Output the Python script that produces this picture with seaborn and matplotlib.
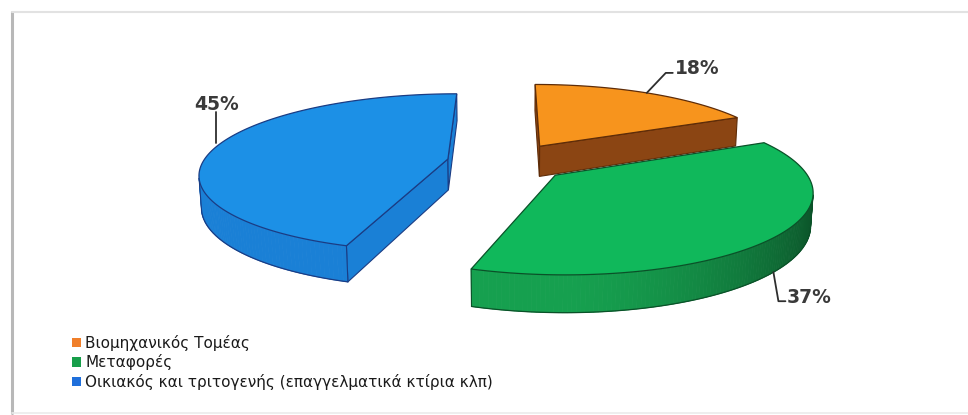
import numpy as np
import matplotlib
matplotlib.use("Agg")
import matplotlib.pyplot as plt
from matplotlib.patches import Polygon, Patch
from matplotlib.lines import Line2D
import seaborn as sns

# Energy consumption shares by sector
categories = ["Βιομηχανικός Τομέας", "Μεταφορές",
              "Οικιακός και τριτογενής (επαγγελματικά κτίρια κλπ)"]
shares = [18, 37, 45]

# Styling
top_colors = ["#F7941D", "#10B85B", "#1C90E6"]
side_colors = ["#8B4513", "#16A04F", "#1A80D6"]
edge_colors = ["#5E2C08", "#0A5128", "#1A3C84"]
legend_colors = ["#F07F2A", "#179E4A", "#1F6FDB"]

sns.set_theme(style="white")
plt.rcParams["font.family"] = ["DejaVu Sans"]

W, H, DPI = 968, 415, 100
fig = plt.figure(figsize=(W / DPI, H / DPI), dpi=DPI)
fig.patch.set_facecolor("white")
ax = fig.add_axes([0, 0, 1, 1])
ax.set_xlim(0, W)
ax.set_ylim(H, 0)
ax.axis("off")

# Camera for the tilted, perspective pie
PHI = np.arcsin(0.316)
CP, SP = np.cos(PHI), np.sin(PHI)
DIST, FOC = 5.5, 1347.0
CX, CY = 508.0, 162.0
THICK = 0.135
EXPLODE = 0.25
CAM = np.array([0.0, DIST * SP, -DIST * CP])


def project(X, Y, Z):
    yc = Y * CP + Z * SP
    d = DIST + Z * CP - Y * SP
    return CX + FOC * X / d, CY - FOC * yc / d


def shade(color, k):
    rgb = np.array(matplotlib.colors.to_rgb(color))
    return tuple(np.clip(rgb * k, 0, 1))


def facing(normal, point):
    return np.dot(normal, CAM - point) > 0


total = float(sum(shares))
start = 0.0
slices = []
for i, v in enumerate(shares):
    span = 360.0 * v / total
    slices.append((i, np.radians(start), np.radians(start + span)))
    start += span

anchors = []
# back slice first, then the left one, then the front one
for i, t1, t2 in [slices[0], slices[2], slices[1]]:
    mid = 0.5 * (t1 + t2)
    ox, oz = EXPLODE * np.sin(mid), EXPLODE * np.cos(mid)
    th = np.linspace(t1, t2, 160)
    ax_x = ox + np.sin(th)
    ax_z = oz + np.cos(th)

    # radial cut faces
    for tt, sign in [(t1, -1), (t2, 1)]:
        n = sign * np.array([np.cos(tt), 0.0, -np.sin(tt)])
        ex, ez = ox + np.sin(tt), oz + np.cos(tt)
        p = np.array([(ox + ex) / 2, -THICK / 2, (oz + ez) / 2])
        if facing(n, p):
            pts = [project(ox, 0, oz), project(ex, 0, ez),
                   project(ex, -THICK, ez), project(ox, -THICK, oz)]
            ax.add_patch(Polygon(pts, closed=True, facecolor=side_colors[i],
                                 edgecolor=edge_colors[i], lw=0.8, zorder=2))

    # outer wall, shaded strip by strip
    vis = []
    for k in range(len(th) - 1):
        tm = 0.5 * (th[k] + th[k + 1])
        n = np.array([np.sin(tm), 0.0, np.cos(tm)])
        p = np.array([ox + np.sin(tm), -THICK / 2, oz + np.cos(tm)])
        if facing(n, p):
            vis.append(k)
            f = 1.0 - 0.5 * max(0.0, np.sin(tm)) ** 1.5
            col = shade(side_colors[i], f)
            pts = [project(ax_x[k], 0, ax_z[k]), project(ax_x[k + 1], 0, ax_z[k + 1]),
                   project(ax_x[k + 1], -THICK, ax_z[k + 1]), project(ax_x[k], -THICK, ax_z[k])]
            ax.add_patch(Polygon(pts, closed=True, facecolor=col, edgecolor=col,
                                 lw=0.6, zorder=2))
    if vis:
        ks = np.arange(vis[0], vis[-1] + 2)
        bx, by = project(ax_x[ks], -THICK, ax_z[ks])
        ax.plot(bx, by, color=edge_colors[i], lw=0.9, zorder=3)
        for kk in (ks[0], ks[-1]):
            x0, y0 = project(ax_x[kk], 0, ax_z[kk])
            x1, y1 = project(ax_x[kk], -THICK, ax_z[kk])
            ax.plot([x0, x1], [y0, y1], color=edge_colors[i], lw=0.8, zorder=3)

    # top face
    tx, ty = project(np.concatenate([[ox], ax_x]), 0, np.concatenate([[oz], ax_z]))
    ax.add_patch(Polygon(np.column_stack([tx, ty]), closed=True,
                         facecolor=top_colors[i], edgecolor=edge_colors[i],
                         lw=0.9, zorder=4))

    ay = 0.0 if np.cos(mid) > 0 else -THICK
    anchors.append((i, project(ox + np.sin(mid), ay, oz + np.cos(mid))))

# percentage labels with leader lines
label_style = dict(family="DejaVu Sans", fontweight="bold", fontsize=13.5,
                   color="#3A3A3A", zorder=6)
for i, (x, y) in anchors:
    txt = f"{shares[i]}%"
    if i == 0:
        xs, ys = [x, x + 19, x + 26], [y, y - 20, y - 20]
        ax.text(x + 28, y - 24, txt, ha="left", va="center", **label_style)
    elif i == 1:
        xs, ys = [x, x + 5, x + 12], [y, y + 29, y + 29]
        ax.text(x + 13, y + 25, txt, ha="left", va="center", **label_style)
    else:
        xs, ys = [x + 1, x + 1], [y - 4, y - 35]
        ax.text(x + 1, y - 43, txt, ha="center", va="center", **label_style)
    ax.plot(xs, ys, color="#2E2E2E", lw=1.3, zorder=5)

handles = [Patch(facecolor=c, edgecolor="none") for c in legend_colors]
fig.legend(handles, categories, loc="upper left",
           bbox_to_anchor=(72 / W, 1 - 335 / H), frameon=False,
           fontsize=11, handlelength=0.58, handleheight=0.58,
           handletextpad=0.3, labelspacing=0.22, borderpad=0,
           borderaxespad=0, labelcolor="#1A1A1A")

# thin frame around the chart area
fig.add_artist(Line2D([12 / W, 12 / W], [2 / H, 1 - 12 / H], color="#B8B8B8",
                      lw=2.2, transform=fig.transFigure))
fig.add_artist(Line2D([12 / W, 1], [1 - 12 / H, 1 - 12 / H], color="#E2E2E2",
                      lw=1.5, transform=fig.transFigure))
fig.add_artist(Line2D([12 / W, 1], [2 / H, 2 / H], color="#EBEBEB",
                      lw=1.2, transform=fig.transFigure))

fig.savefig("out.png", dpi=DPI, facecolor="white")
